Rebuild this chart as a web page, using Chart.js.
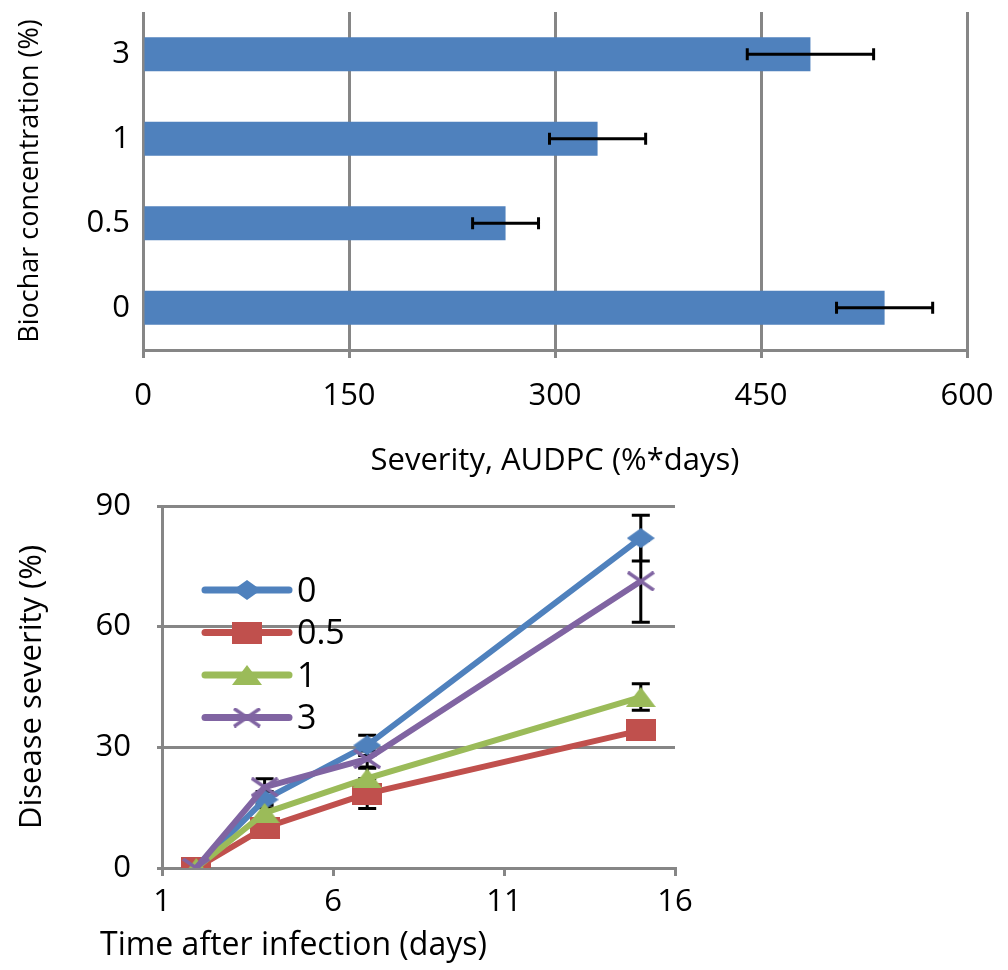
<!DOCTYPE html>
<html>
<head>
<meta charset="utf-8">
<script src="https://cdn.jsdelivr.net/npm/chart.js@4.4.1/dist/chart.umd.min.js"></script>
<style>
  html, body { margin: 0; padding: 0; background: #fff; }
  #wrap { position: relative; width: 1008px; height: 970px; }
  #topChart { position: absolute; left: 0; top: 0; }
  #bottomChart { position: absolute; left: 0; top: 490px; }
</style>
</head>
<body>
<div id="wrap">
  <canvas id="topChart" width="1008" height="490"></canvas>
  <canvas id="bottomChart" width="720" height="480"></canvas>
</div>
<script>
// --- data: AUDPC per biochar concentration ---
const concLabels = ['0', '0.5', '1', '3'];
const audpcMeans = [540, 264, 331, 486];
const audpcErrors = [35, 24, 35, 46];
const audpcTicks = [0, 150, 300, 450, 600];

// --- data: disease severity over time ---
const days = [2, 4, 7, 15];
const seriesNames = ['0', '0.5', '1', '3'];
const sev0 = [0, 17, 30.5, 82];
const sev05 = [0, 10, 18.5, 34.2];
const sev1 = [0, 13.7, 22.3, 42.5];
const sev3 = [0, 20.1, 27.1, 71.3];
const err0 = [0, 2, 2.5, 5.7];
const err05 = [0, 1.5, 3.7, 2];
const err1 = [0, 2, 2.5, 3.3];
const err3 = [0, 2.1, 2, 10.2];
const daysTicks = [1, 6, 11, 16];
const sevTicks = [0, 30, 60, 90];

const FONT = "'Open Sans', 'Noto Sans', sans-serif";
const GRID = '#868686';

// no extra label padding around the plot, the layout padding sets it
function noPad(s) {
  s.paddingTop = 0; s.paddingBottom = 0;
  s.paddingLeft = 0; s.paddingRight = 0;
}

// marker images (slightly wider than tall, like the original)
function makeMarker(shape, color, w, h) {
  const c = document.createElement('canvas');
  c.width = w; c.height = h;
  const g = c.getContext('2d');
  g.fillStyle = color;
  g.strokeStyle = color;
  if (shape === 'diamond') {
    g.beginPath();
    g.moveTo(w / 2, 0); g.lineTo(w, h / 2); g.lineTo(w / 2, h); g.lineTo(0, h / 2);
    g.closePath(); g.fill();
  } else if (shape === 'square') {
    g.fillRect(0, 0, w, h);
  } else if (shape === 'triangle') {
    g.beginPath();
    g.moveTo(w / 2, 0); g.lineTo(w, h); g.lineTo(0, h);
    g.closePath(); g.fill();
  } else if (shape === 'cross') {
    g.lineWidth = 3.5;
    g.beginPath();
    g.moveTo(1, 1); g.lineTo(w - 1, h - 1);
    g.moveTo(w - 1, 1); g.lineTo(1, h - 1);
    g.stroke();
  }
  return c;
}

// ============ top chart: horizontal bars ============
const barErrorPlugin = {
  id: 'barErrors',
  afterDatasetsDraw(chart) {
    const { ctx, scales } = chart;
    const meta = chart.getDatasetMeta(0);
    ctx.save();
    ctx.strokeStyle = '#000';
    ctx.lineWidth = 3;
    meta.data.forEach((bar, i) => {
      const lo = scales.x.getPixelForValue(audpcMeans[i] - audpcErrors[i]);
      const hi = scales.x.getPixelForValue(audpcMeans[i] + audpcErrors[i]);
      const y = bar.y;
      ctx.beginPath();
      ctx.moveTo(lo, y); ctx.lineTo(hi, y);
      ctx.moveTo(lo, y - 6); ctx.lineTo(lo, y + 6);
      ctx.moveTo(hi, y - 6); ctx.lineTo(hi, y + 6);
      ctx.stroke();
    });
    ctx.restore();
  }
};

new Chart(document.getElementById('topChart'), {
  type: 'bar',
  data: {
    labels: concLabels,
    datasets: [{
      data: audpcMeans,
      backgroundColor: '#4F81BD',
      categoryPercentage: 1,
      barPercentage: 0.4
    }]
  },
  plugins: [barErrorPlugin],
  options: {
    indexAxis: 'y',
    responsive: false,
    animation: false,
    layout: { padding: { top: 12, right: 41, left: 0, bottom: 0 } },
    plugins: { legend: { display: false }, tooltip: { enabled: false } },
    scales: {
      x: {
        min: 0, max: 600,
        afterBuildTicks: (s) => { s.ticks = audpcTicks.map(v => ({ value: v })); },
        afterFit: (s) => { s.height = 140; noPad(s); },
        grid: { color: GRID, lineWidth: 3, tickLength: 8 },
        border: { color: GRID, width: 3 },
        ticks: { color: '#000', font: { family: FONT, size: 31 }, padding: 20 },
        title: {
          display: true, text: 'Severity, AUDPC (%*days)', color: '#000',
          font: { family: FONT, size: 31 }, padding: { top: 0, bottom: 10 }
        }
      },
      y: {
        reverse: true,
        afterFit: (s) => { s.width = 143; noPad(s); },
        grid: { display: false },
        border: { display: false },
        ticks: { color: '#000', font: { family: FONT, size: 31 }, padding: 5 },
        title: {
          display: true, text: 'Biochar concentration (%)', color: '#000',
          font: { family: FONT, size: 27 }, padding: { top: 14, bottom: 0 }
        }
      }
    }
  }
});

// ============ bottom chart: severity over time ============
const seriesColors = ['#4F81BD', '#C0504D', '#9BBB59', '#8064A2'];
const seriesValues = [sev0, sev05, sev1, sev3];
const seriesErrors = [err0, err05, err1, err3];
const markers = [
  makeMarker('diamond', seriesColors[0], 28, 20),
  makeMarker('square', seriesColors[1], 30, 22),
  makeMarker('triangle', seriesColors[2], 30, 20),
  makeMarker('cross', seriesColors[3], 28, 20)
];

const lineErrorPlugin = {
  id: 'lineErrors',
  beforeDatasetsDraw(chart) {
    const { ctx, scales } = chart;
    ctx.save();
    ctx.strokeStyle = '#000';
    ctx.lineWidth = 3;
    seriesValues.forEach((vals, si) => {
      vals.forEach((v, i) => {
        const e = seriesErrors[si][i];
        if (!e) return;
        const x = scales.x.getPixelForValue(days[i]);
        const lo = scales.y.getPixelForValue(v - e);
        const hi = scales.y.getPixelForValue(v + e);
        ctx.beginPath();
        ctx.moveTo(x, lo); ctx.lineTo(x, hi);
        ctx.moveTo(x - 9, lo); ctx.lineTo(x + 9, lo);
        ctx.moveTo(x - 9, hi); ctx.lineTo(x + 9, hi);
        ctx.stroke();
      });
    });
    ctx.restore();
  }
};

// legend inside the plot + x title placed like the original
const insideLegendPlugin = {
  id: 'insideLegend',
  afterDraw(chart) {
    const { ctx, chartArea } = chart;
    const x0 = chartArea.left + 43;
    const y0 = chartArea.top + 84;
    ctx.save();
    seriesNames.forEach((name, i) => {
      const y = y0 + i * 42.5;
      ctx.strokeStyle = seriesColors[i];
      ctx.lineWidth = 7;
      ctx.lineCap = 'round';
      ctx.beginPath();
      ctx.moveTo(x0, y); ctx.lineTo(x0 + 84, y);
      ctx.stroke();
      const m = markers[i];
      ctx.drawImage(m, x0 + 42 - m.width / 2, y - m.height / 2);
      ctx.fillStyle = '#000';
      ctx.font = '34px ' + FONT;
      ctx.textBaseline = 'middle';
      ctx.textAlign = 'left';
      ctx.fillText(name, x0 + 92, y + 2);
    });
    ctx.font = '32px ' + FONT;
    ctx.textAlign = 'left';
    ctx.textBaseline = 'middle';
    ctx.fillText('Time after infection (days)', chartArea.left - 62, chartArea.bottom + 78);
    ctx.restore();
  }
};

new Chart(document.getElementById('bottomChart'), {
  type: 'line',
  data: {
    datasets: seriesNames.map((name, i) => ({
      label: name,
      data: days.map((d, j) => ({ x: d, y: seriesValues[i][j] })),
      borderColor: seriesColors[i],
      backgroundColor: seriesColors[i],
      borderWidth: 6,
      pointStyle: markers[i],
      pointRadius: 10,
      tension: 0,
      order: 4 - i
    }))
  },
  plugins: [lineErrorPlugin, insideLegendPlugin],
  options: {
    responsive: false,
    animation: false,
    layout: { padding: { top: 13, right: 45, left: 0, bottom: 0 } },
    plugins: { legend: { display: false }, tooltip: { enabled: false } },
    scales: {
      x: {
        type: 'linear',
        min: 1, max: 16,
        afterBuildTicks: (s) => { s.ticks = daysTicks.map(v => ({ value: v })); },
        afterFit: (s) => { s.height = 102; noPad(s); },
        grid: { drawOnChartArea: false, color: GRID, lineWidth: 3, tickLength: 8 },
        border: { color: GRID, width: 3 },
        ticks: { color: '#000', font: { family: FONT, size: 31 }, padding: 8 }
      },
      y: {
        min: 0, max: 90,
        afterBuildTicks: (s) => { s.ticks = sevTicks.map(v => ({ value: v })); },
        afterFit: (s) => { s.width = 162; noPad(s); },
        grid: { color: GRID, lineWidth: 3, tickLength: 5 },
        border: { color: GRID, width: 3 },
        ticks: { color: '#000', font: { family: FONT, size: 31 }, padding: 26 },
        title: {
          display: true, text: 'Disease severity (%)', color: '#000',
          font: { family: FONT, size: 31 }, padding: { top: 14, bottom: 0 }
        }
      }
    }
  }
});
</script>
</body>
</html>
